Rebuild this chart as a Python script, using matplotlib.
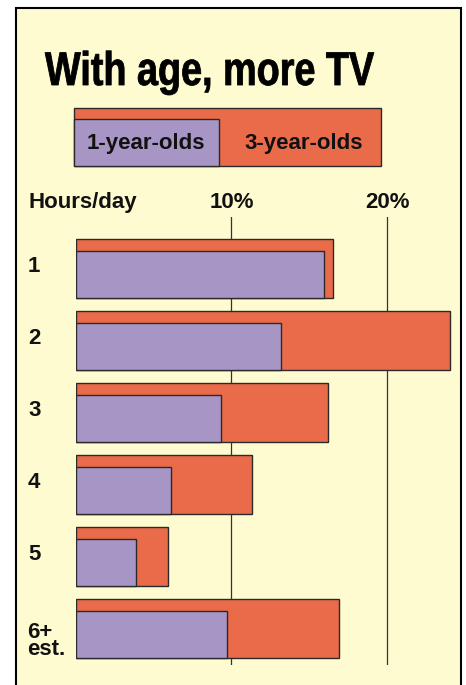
import numpy as np
import matplotlib
matplotlib.use("Agg")
import matplotlib.pyplot as plt
from matplotlib.patches import Rectangle
from matplotlib.patheffects import AbstractPathEffect
from matplotlib.transforms import Affine2D, blended_transform_factory

# data (percent of children, by hours of TV per day)
hours = ['1', '2', '3', '4', '5', '6+\nest.']
one_year_olds = [15.9, 13.2, 9.3, 6.1, 3.9, 9.7]
three_year_olds = [16.5, 24.0, 16.2, 11.3, 5.9, 16.9]
tick_values = [10, 20]
tick_labels = ['10%', '20%']

CREAM = '#FFFBD0'
ORANGE = '#EA6B4A'
PURPLE = '#A796C5'
EDGE = '#2a2a2a'
FONT = 'Liberation Sans'

W, H = 466, 685


def fx(px):
    return px / W


def fy(py):
    return 1 - py / H


class Squeeze(AbstractPathEffect):
    # narrows text horizontally around x0 (display pixels), with a thin stroke
    def __init__(self, sx, x0, stroke=0.6):
        super().__init__()
        self.sx = sx
        self.x0 = x0
        self.stroke = stroke

    def draw_path(self, renderer, gc, tpath, affine, rgbFace=None):
        t = affine + Affine2D().translate(-self.x0, 0).scale(self.sx, 1).translate(self.x0, 0)
        gc0 = renderer.new_gc()
        gc0.copy_properties(gc)
        gc0.set_linewidth(self.stroke)
        gc0.set_foreground(rgbFace if rgbFace is not None else 'black')
        renderer.draw_path(gc0, tpath, t, rgbFace)
        gc0.restore()


fig = plt.figure(figsize=(W / 100, H / 100), dpi=100)
fig.patch.set_facecolor('white')

# cream panel with black border (runs off the bottom)
fig.patches.append(Rectangle((fx(16), fy(720)), fx(461) - fx(16), fy(8) - fy(720),
                             transform=fig.transFigure, facecolor=CREAM,
                             edgecolor='black', linewidth=1.5, zorder=-1))

fig.text(fx(45), fy(85), 'With age, more TV', fontsize=34, fontweight='bold',
         family=FONT, ha='left', va='baseline', color='black',
         path_effects=[Squeeze(0.8, 45)])

# legend
def px_rect(x0, y0, x1, y1, color):
    fig.patches.append(Rectangle((fx(x0), fy(y1)), fx(x1) - fx(x0), fy(y0) - fy(y1),
                                 transform=fig.transFigure, facecolor=color,
                                 edgecolor=EDGE, linewidth=1.0, zorder=2))

px_rect(74, 107.5, 381, 166, ORANGE)
px_rect(74, 119.5, 218.5, 166, PURPLE)
fig.text(fx(146), fy(149.5), '1-year-olds', fontsize=16, fontweight='bold', family=FONT,
         ha='center', va='baseline', color='#111111', zorder=3)
fig.text(fx(304), fy(149.5), '3-year-olds', fontsize=16, fontweight='bold', family=FONT,
         ha='center', va='baseline', color='#111111', zorder=3)

fig.text(fx(28), fy(207.7), 'Hours/day', fontsize=16, fontweight='bold', family=FONT,
         ha='left', va='baseline', color='#111111')

# bars
zero_px = 75.5
px_per_pct = 15.6
ax = fig.add_axes([fx(zero_px), fy(665), fx(460) - fx(zero_px), fy(216.7) - fy(665)])
ax.set_facecolor('none')
ax.set_xlim(0, (460 - zero_px) / px_per_pct)
ax.set_ylim(0, (665 - 216.7) / 72)
for s in ax.spines.values():
    s.set_visible(False)

base = (665 - 297.7) / 72 - np.arange(len(hours))
ax.barh(base, three_year_olds, height=0.815, align='edge', color=ORANGE,
        edgecolor=EDGE, linewidth=1.0, zorder=3)
ax.barh(base, one_year_olds, height=0.65, align='edge', color=PURPLE,
        edgecolor=EDGE, linewidth=1.0, zorder=4)

for v in tick_values:
    ax.axvline(v, color='#333333', linewidth=0.9, zorder=1)

ax.set_xticks(tick_values, tick_labels)
ax.set_yticks([])
ax.tick_params(axis='x', top=True, labeltop=True, bottom=False, labelbottom=False,
               length=0, pad=3)
for lab in ax.get_xticklabels():
    lab.set_fontsize(16)
    lab.set_fontweight('bold')
    lab.set_family(FONT)
    lab.set_color('#111111')

trans = blended_transform_factory(fig.transFigure, ax.transData)
for i, name in enumerate(hours):
    if '\n' in name:
        ax.text(fx(27), base[i] - 0.03, name, transform=trans, fontsize=16,
                fontweight='bold', family=FONT, ha='left', va='bottom',
                linespacing=0.72, color='#111111')
    else:
        ax.text(fx(28), base[i] + 0.815 / 2 + 0.03, name, transform=trans, fontsize=16,
                fontweight='bold', family=FONT, ha='left', va='center', color='#111111')

fig.savefig('out.png', dpi=100)
